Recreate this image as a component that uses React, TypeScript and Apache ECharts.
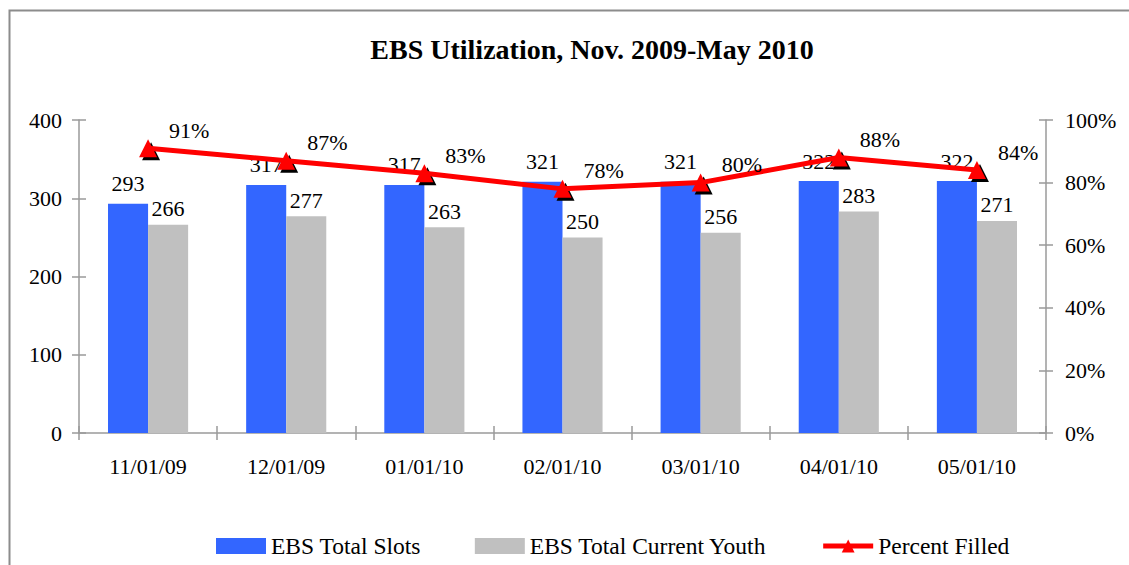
import React, { useEffect, useRef } from "react";
import * as echarts from "echarts";

const categories = ["11/01/09", "12/01/09", "01/01/10", "02/01/10", "03/01/10", "04/01/10", "05/01/10"];
const totalSlots = [293, 317, 317, 321, 321, 322, 322];
const currentYouth = [266, 277, 263, 250, 256, 283, 271];
const percentFilled = [0.91, 0.87, 0.83, 0.78, 0.80, 0.88, 0.84];
const leftTicks = { min: 0, max: 400, interval: 100 };
const rightTicks = { min: 0, max: 1, interval: 0.2 };

const FONT = "Liberation Serif";
const AXIS_GRAY = "#9a9a9a";

export default function App() {
  const ref = useRef<HTMLDivElement>(null);
  useEffect(() => {
    if (!ref.current) return;
    const chart = echarts.init(ref.current, null, { renderer: "svg" });
    const pctFmt = (v: number) => Math.round(v * 100) + "%";
    chart.setOption({
      animation: false,
      backgroundColor: "#ffffff",
      textStyle: { fontFamily: FONT, color: "#000" },
      title: {
        text: "EBS Utilization, Nov. 2009-May 2010",
        left: 587,
        top: 30,
        textAlign: "center",
        textStyle: { fontFamily: FONT, fontSize: 28, fontWeight: "bold", color: "#000" },
      },
      graphic: [
        {
          type: "rect",
          left: 7,
          top: 8,
          shape: { width: 1140, height: 600 },
          style: { fill: "none", stroke: "#8c8c8c", lineWidth: 2 },
          silent: true,
          z: -10,
        },
      ],
      legend: {
        left: 216,
        top: 534,
        padding: 0,
        itemWidth: 50,
        itemHeight: 16,
        itemGap: 54,
        data: [
          { name: "EBS Total Slots", icon: "rect" },
          { name: "EBS Total Current Youth", icon: "rect" },
          { name: "Percent Filled", lineStyle: { width: 5, color: "#FF0000" } },
        ],
        textStyle: { fontFamily: FONT, fontSize: 23.5, color: "#000" },
      },
      grid: { left: 79, right: 83, top: 120, bottom: 132, containLabel: false },
      xAxis: [
        {
          type: "category",
          data: categories,
          axisLine: { lineStyle: { color: AXIS_GRAY, width: 1.5 } },
          axisTick: { show: true, length: 7, alignWithLabel: false, lineStyle: { color: AXIS_GRAY, width: 1.5 } },
          axisLabel: { fontFamily: FONT, fontSize: 22, color: "#000", margin: 22 },
          splitLine: { show: false },
        },
        {
          type: "category",
          data: categories,
          position: "bottom",
          axisLine: { show: false },
          axisTick: { show: true, inside: true, length: 7, lineStyle: { color: AXIS_GRAY, width: 1.5 } },
          axisLabel: { show: false },
          splitLine: { show: false },
        },
      ],
      yAxis: [
        {
          type: "value",
          ...leftTicks,
          position: "left",
          axisLine: { show: true, lineStyle: { color: AXIS_GRAY, width: 1.5 } },
          axisTick: { show: true, length: 7, lineStyle: { color: AXIS_GRAY, width: 1.5 } },
          axisLabel: { fontFamily: FONT, fontSize: 22, color: "#000", margin: 17 },
          splitLine: { show: false },
        },
        {
          type: "value",
          ...rightTicks,
          position: "right",
          axisLine: { show: true, lineStyle: { color: AXIS_GRAY, width: 1.5 } },
          axisTick: { show: true, length: 7, lineStyle: { color: AXIS_GRAY, width: 1.5 } },
          axisLabel: { fontFamily: FONT, fontSize: 22, color: "#000", margin: 19, formatter: pctFmt },
          splitLine: { show: false },
        },
        {
          type: "value",
          ...leftTicks,
          position: "left",
          axisLine: { show: false },
          axisTick: { show: true, inside: true, length: 7, lineStyle: { color: AXIS_GRAY, width: 1.5 } },
          axisLabel: { show: false },
          splitLine: { show: false },
        },
        {
          type: "value",
          ...rightTicks,
          position: "right",
          axisLine: { show: false },
          axisTick: { show: true, inside: true, length: 7, lineStyle: { color: AXIS_GRAY, width: 1.5 } },
          axisLabel: { show: false },
          splitLine: { show: false },
        },
      ],
      series: [
        {
          name: "EBS Total Slots",
          type: "bar",
          yAxisIndex: 0,
          data: totalSlots,
          barGap: "0%",
          barCategoryGap: "42%",
          itemStyle: { color: "#3366FF" },
          label: { show: true, position: "top", distance: 9, fontFamily: FONT, fontSize: 22, color: "#000" },
          z: 2,
        },
        {
          name: "EBS Total Current Youth",
          type: "bar",
          yAxisIndex: 0,
          data: currentYouth,
          itemStyle: { color: "#C0C0C0" },
          label: { show: true, position: "top", distance: 5, fontFamily: FONT, fontSize: 22, color: "#000" },
          z: 2,
        },
        {
          name: "shadow",
          type: "line",
          yAxisIndex: 1,
          data: percentFilled,
          symbol: "triangle",
          symbolSize: [18, 18],
          symbolOffset: [3, 3],
          showSymbol: true,
          lineStyle: { opacity: 0, width: 0 },
          itemStyle: { color: "#000" },
          label: { show: false },
          silent: true,
          z: 3,
        },
        {
          name: "Percent Filled",
          type: "line",
          yAxisIndex: 1,
          data: percentFilled,
          symbol: "triangle",
          symbolSize: [18, 18],
          showSymbol: true,
          lineStyle: { color: "#FF0000", width: 5 },
          itemStyle: { color: "#FF0000" },
          label: {
            show: true,
            position: "right",
            distance: 12,
            offset: [0, -18],
            fontFamily: FONT,
            fontSize: 22,
            color: "#000",
            formatter: (p: any) => pctFmt(p.value),
          },
          z: 5,
        },
      ],
    });
    return () => chart.dispose();
  }, []);
  return <div ref={ref} style={{ position: "fixed", left: 0, top: 0, width: 1129, height: 565 }} />;
}
